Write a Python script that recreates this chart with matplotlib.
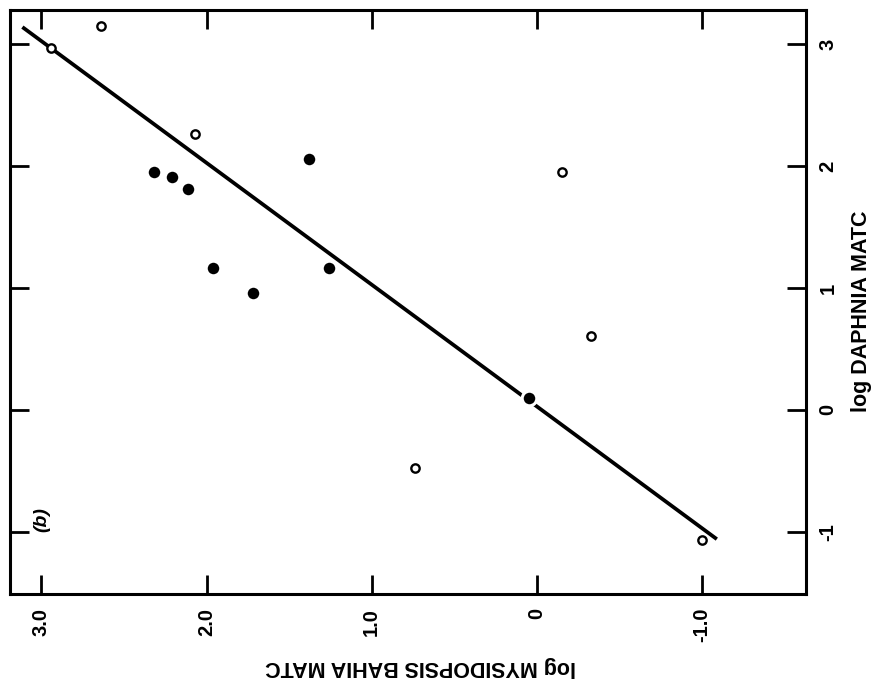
import matplotlib
matplotlib.use("Agg")
import matplotlib.pyplot as plt

plt.rcParams['font.family'] = ['Liberation Sans', 'DejaVu Sans']
plt.rcParams['font.weight'] = 'bold'

# filled points (log Mysidopsis bahia MATC, log Daphnia MATC)
filled_mysid = [1.38, 2.32, 2.21, 2.11, 1.96, 1.26, 1.72, 0.05]
filled_daphnia = [2.06, 1.95, 1.91, 1.81, 1.16, 1.16, 0.96, 0.10]

# open points
open_mysid = [2.64, 2.94, 2.07, -0.15, -0.33, 0.74, -1.00]
open_daphnia = [3.15, 2.97, 2.26, 1.95, 0.61, -0.48, -1.07]

# regression line end points
fit_mysid = [3.115, -1.09]
fit_daphnia = [3.14, -1.06]

mysid_ticks = [3, 2, 1, 0, -1]
mysid_labels = ['3.0', '2.0', '1.0', '0', '-1.0']
daphnia_ticks = [-1, 0, 1, 2, 3]
daphnia_labels = ['-1', '0', '1', '2', '3']

fig = plt.figure(figsize=(8.74, 6.83), dpi=100)
ax = fig.add_axes([10 / 874, 1 - 594 / 683, 796 / 874, 584 / 683])

ax.plot(fit_mysid, fit_daphnia, color='black', lw=2.7, solid_capstyle='butt', zorder=2)
ax.plot(filled_mysid, filled_daphnia, 'o', ms=10.5, mfc='black', mec='white', mew=2.2, zorder=3)
ax.plot(open_mysid, open_daphnia, 'o', ms=6, mfc='white', mec='black', mew=1.7, zorder=3)

ax.set_xlim(3.19, -1.63)
ax.set_ylim(-1.51, 3.28)

ax.set_xticks(mysid_ticks)
ax.set_xticklabels(mysid_labels, rotation=90, fontsize=14.5, fontweight='bold')
ax.set_yticks(daphnia_ticks)
ax.set_yticklabels(daphnia_labels, rotation=90, fontsize=14.5, fontweight='bold', va='center')

ax.tick_params(axis='both', direction='in', length=14, width=2,
               top=True, right=True, left=True, bottom=True,
               labelleft=False, labelright=True, labelbottom=True)
ax.tick_params(axis='x', pad=10)
ax.tick_params(axis='y', pad=9)

for s in ax.spines.values():
    s.set_linewidth(2.2)

fig.text(421 / 874, 1 - 666 / 683, 'log MYSIDOPSIS BAHIA MATC', rotation=180,
         ha='center', va='center', fontsize=15.5, fontweight='bold')
fig.text(862 / 874, 1 - 311 / 683, 'log DAPHNIA MATC', rotation=90,
         ha='center', va='center', fontsize=15.5, fontweight='bold')
ax.text(42 / 874, 1 - 520 / 683, '(b)', transform=fig.transFigure, rotation=90,
        ha='center', va='center', fontsize=14, fontweight='bold', style='italic')

fig.savefig('out.png', dpi=100)
